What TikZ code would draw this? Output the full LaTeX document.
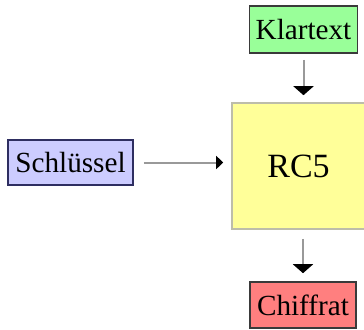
\documentclass[tikz,border=0pt]{standalone}
\usepackage{fontspec}
\setmainfont{Liberation Serif}
\usetikzlibrary{arrows.meta, positioning}
\definecolor{ktgreen}{HTML}{99FF99}
\definecolor{rcyellow}{HTML}{FFFF99}
\definecolor{keyblue}{HTML}{CCCCFF}
\definecolor{chred}{HTML}{FF7F7F}
\definecolor{dkframe}{HTML}{3A3A3A}
\definecolor{ltframe}{HTML}{BDBDAA}
\definecolor{flowgray}{HTML}{999999}

\begin{document}
\begin{tikzpicture}[
    x=0.5pt, y=-0.5pt,
    every node/.style={text=black, inner sep=0pt},
    databox/.style={draw=dkframe, line width=0.8pt, font=\fontsize{14.6}{17}\selectfont},
    flow/.style={draw=flowgray, line width=1pt,
      -{Triangle[length=4.5pt, width=10pt, color=black]}},
  ]
  \useasboundingbox (0,0) rectangle (364,329);

  % ===== Cipher block =====
  \node[fill=rcyellow, draw=ltframe, line width=0.8pt,
    minimum width=66.5pt, minimum height=63pt,
    font=\fontsize{17}{19}\selectfont] (rc5) at (298.5,166) {RC5};

  % ===== Inputs and output =====
  \node[databox, fill=ktgreen, minimum width=54pt, minimum height=23.5pt]
    (klartext) at (303.5,29.5) {Klartext};
  \node[databox, fill=keyblue, draw=dkframe!80!blue, minimum width=62.5pt,
    minimum height=22.5pt] (schluessel) at (70.5,162.5) {Schlüssel};
  \node[databox, fill=chred, minimum width=53pt, minimum height=23pt]
    (chiffrat) at (303,305) {Chiffrat};

  % ===== Connectors =====
  \draw[flow, shorten <=3pt, shorten >=3.5pt]
    (klartext.south) -- (klartext.south |- rc5.north);
  \draw[flow, -{Triangle[length=3.5pt, width=6.5pt, color=black]},
    shorten <=5pt, shorten >=4pt]
    (schluessel.east) -- (schluessel.east -| rc5.west);
  \draw[flow, shorten <=4.5pt, shorten >=4pt]
    (chiffrat.north |- rc5.south) -- (chiffrat.north);

\end{tikzpicture}
\end{document}
